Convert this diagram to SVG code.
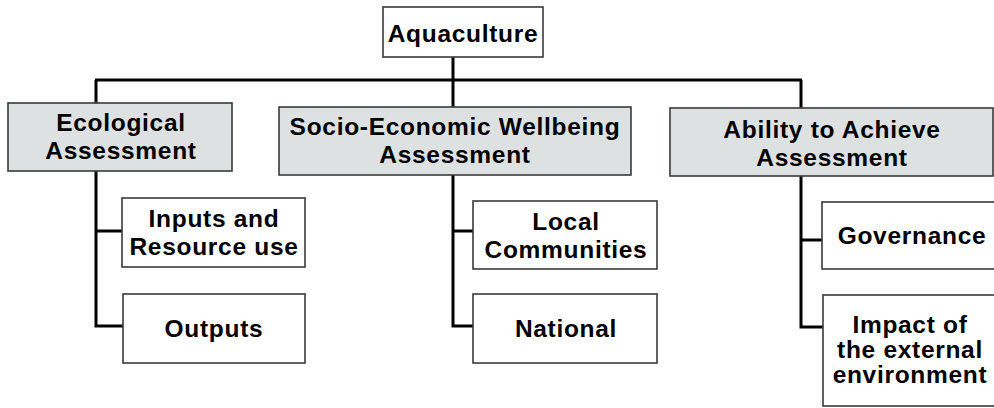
<svg xmlns="http://www.w3.org/2000/svg" width="994" height="408" viewBox="0 0 994 408">
<style>
.box{fill:#ffffff;stroke:#3a3a3a;stroke-width:1.6}
.hd{fill:#dde1e1;stroke:#3a3a3a;stroke-width:1.6}
text{font-family:"Liberation Sans",Arial,sans-serif;font-weight:bold;font-size:24.5px;letter-spacing:0.7px;fill:#000;text-anchor:middle}
.ln{fill:none;stroke:#000;stroke-width:3}
</style>
<rect width="994" height="408" fill="#fff"/>
<g id="connectors">
<path class="ln" d="M453,57 V107 M95,80 H802 M96,80 V103 M801,80 V108"/>
<path class="ln" d="M96,171 V326 H123 M96,231 H122"/>
<path class="ln" d="M453,175 V326 H473 M453,231 H473"/>
<path class="ln" d="M801,176 V327 H823 M801,240 H822"/>
</g>
<g id="aquaculture">
<rect class="box" x="383" y="7" width="160" height="50"/>
<text x="463" y="42">Aquaculture</text>
</g>
<g id="ecological">
<rect class="hd" x="8" y="103" width="224" height="68"/>
<text x="121" y="131">Ecological</text>
<text x="121" y="159">Assessment</text>
</g>
<g id="socio">
<rect class="hd" x="279" y="107" width="352" height="68"/>
<text x="455" y="135">Socio-Economic Wellbeing</text>
<text x="455" y="163">Assessment</text>
</g>
<g id="ability">
<rect class="hd" x="670" y="108" width="323" height="68"/>
<text x="832" y="138">Ability to Achieve</text>
<text x="832" y="166">Assessment</text>
</g>
<g id="inputs">
<rect class="box" x="122" y="198" width="183" height="69"/>
<text x="214" y="227">Inputs and</text>
<text x="214" y="255">Resource use</text>
</g>
<g id="outputs">
<rect class="box" x="123" y="294" width="182" height="69"/>
<text x="214" y="337">Outputs</text>
</g>
<g id="local">
<rect class="box" x="473" y="201" width="184" height="68"/>
<text x="566" y="230">Local</text>
<text x="566" y="258">Communities</text>
</g>
<g id="national">
<rect class="box" x="473" y="294" width="184" height="69"/>
<text x="566" y="337">National</text>
</g>
<g id="governance">
<rect class="box" x="822" y="202" width="184" height="67"/>
<text x="912" y="244">Governance</text>
</g>
<g id="impact">
<rect class="box" x="823" y="295" width="184" height="111"/>
<text x="910" y="333">Impact of</text>
<text x="910" y="358">the external</text>
<text x="910" y="383">environment</text>
</g>
</svg>
